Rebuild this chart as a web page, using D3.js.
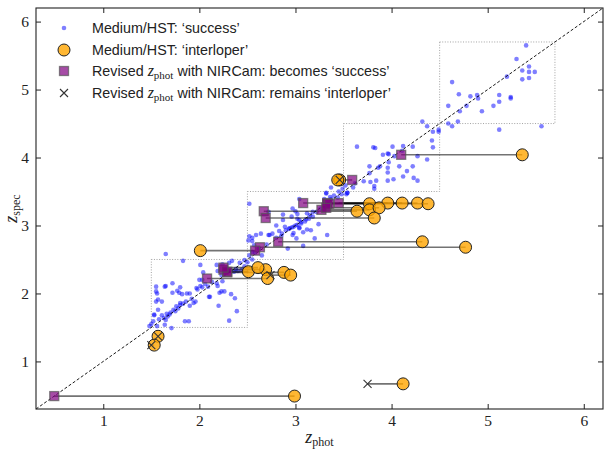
<!DOCTYPE html>
<html>
<head>
<meta charset="utf-8">
<script src="https://cdn.jsdelivr.net/npm/d3@7"></script>
<style>
  body { margin: 0; background: #fff; }
  svg { display: block; }
  .tick text { font-family: "Liberation Serif", "DejaVu Serif", serif; font-size: 15.5px; fill: #222; }
  .legend text { font-family: "Liberation Sans", Arial, sans-serif; font-size: 14.3px; fill: #222; }
</style>
</head>
<body>
<svg id="chart" width="604" height="452"></svg>
<script>
// 数据：蓝色 "success" 点 [z_phot, z_spec]
var successPoints = [
  // 4.5 - 5.7 框
  [5.40,5.65],[5.30,5.45],[4.63,5.11],[5.20,5.19],[5.43,5.34],[5.36,5.28],[5.43,5.26],[5.49,5.26],
  [5.36,5.15],[5.43,5.17],[4.70,4.93],[4.82,4.90],[4.89,4.92],[4.90,4.87],[5.12,4.92],[5.12,4.82],
  [5.24,4.89],[5.24,4.87],[4.59,4.76],[4.78,4.76],[4.71,4.68],[4.94,4.68],[5.06,4.76],[4.32,4.53],
  [4.37,4.46],[4.59,4.50],[4.69,4.53],[4.63,4.46],[4.49,4.41],[5.12,4.41],[5.56,4.46],
  // 3.5 - 4.5 框
  [4.43,4.38],[4.49,4.38],[4.42,4.25],[4.43,4.15],[3.64,4.16],[3.81,4.15],[3.83,4.14],[4.01,4.16],
  [4.12,4.17],[4.22,4.16],[3.91,4.04],[3.96,4.06],[4.03,4.02],[4.27,4.02],[4.37,3.97],[3.97,3.93],
  [3.96,3.85],[4.22,3.87],[4.16,3.80],[3.77,3.87],[3.86,3.85],[3.77,3.77],[3.84,3.66],[3.78,3.64],
  [3.71,3.65],[3.82,3.58],[3.82,3.54],[3.96,3.66],[4.02,3.68],[4.12,3.72],[4.23,3.70],[4.27,3.66],
  [3.54,3.48],[3.48,3.46],[4.11,4.10],[3.97,4.05],[3.88,3.87],[4.08,3.87],[3.96,3.78],[3.62,3.62],
  [3.60,3.56],
  // 2.5 - 3.5 框
  [2.52,3.32],[3.04,3.39],[3.32,3.47],[3.37,3.39],[3.53,3.46],[2.87,3.16],[2.87,3.08],[3.00,3.21],
  [3.02,3.17],[3.15,3.15],[3.18,3.20],[3.11,3.09],[3.24,3.02],[3.06,3.03],[2.80,3.00],[2.89,2.98],
  [2.94,2.96],[3.04,2.96],[3.12,2.94],[2.83,2.92],[2.76,2.88],[2.72,2.86],[2.59,2.86],[2.52,2.84],
  [2.55,2.77],[2.97,2.86],[3.01,2.81],[3.33,2.86],[3.08,2.70],[2.92,2.66],[2.55,2.61],[2.52,2.56],
  [2.47,2.49],[3.32,3.48],[3.36,3.42],[3.30,3.39],[3.44,3.41],[3.54,3.48],[3.52,3.59],[3.37,3.56],
  [2.97,3.25],[2.72,3.20],[2.96,3.13],[3.02,3.10],[3.04,3.08],[3.12,3.18],[2.98,2.98],[3.04,2.97],
  [3.16,2.93],[2.86,2.88],[2.98,2.89],[3.08,2.90],[2.73,2.86],[2.64,2.88],[2.55,2.82],[2.57,2.71],
  [2.51,2.78],[3.20,2.81],[2.65,2.56],[2.93,2.95],[2.96,2.97],[3.00,3.00],[3.02,3.01],[2.90,2.93],
  [3.06,3.05],[3.10,3.06],[3.14,3.10],[3.18,3.13],[3.22,3.20],[3.26,3.25],[2.85,2.84],[2.80,2.82],
  [2.70,2.72],[2.62,2.66],[2.58,2.60],[3.40,3.44],[3.30,3.32],[3.45,3.50],[3.49,3.54],
  // 2.3 附近
  [2.30,2.33],[2.33,2.33],[2.36,2.32],[2.40,2.33],[2.44,2.35],[2.38,2.36],[2.47,2.40],[2.42,2.45],
  [2.50,2.46],[2.55,2.50],
  // 1.5 - 2.5 框
  [1.65,2.58],[1.83,2.48],[2.01,2.42],[2.04,2.31],[2.00,2.20],[2.18,2.42],[2.19,2.33],[2.18,2.15],
  [2.23,2.27],[2.34,2.48],[2.31,2.45],[2.24,2.18],[2.13,2.17],[2.06,2.14],[2.03,2.09],[1.98,2.06],
  [1.72,2.15],[1.80,2.09],[1.55,2.10],[1.56,2.00],[1.64,2.10],[1.72,2.01],[1.79,2.01],[1.82,1.99],
  [1.87,2.00],[1.90,2.00],[1.57,1.91],[1.61,1.88],[1.80,1.86],[1.83,1.85],[1.94,1.86],[1.90,1.82],
  [1.96,1.88],[2.10,1.95],[2.21,2.01],[2.26,2.03],[2.33,1.99],[2.37,1.93],[2.20,1.82],[2.39,1.74],
  [2.31,1.60],[1.73,1.76],[1.69,1.69],[1.66,1.70],[1.61,1.68],[1.76,1.81],[1.80,1.83],[1.53,1.69],
  [1.52,1.59],[1.64,1.54],[1.71,1.49],[1.85,1.59],[1.89,1.59],[1.63,1.64],[1.56,1.52],[2.24,2.43],
  [1.55,2.03],[1.65,2.11],[1.77,2.04],[1.97,2.08],[2.01,2.11],[2.03,2.20],[2.09,2.10],[2.11,1.95],
  [2.19,2.11],[2.23,2.03],[1.55,1.88],[1.57,1.76],[1.65,1.61],[1.53,1.68],[1.58,1.62],[1.67,1.66],
  [1.70,1.72],[1.75,1.74],[1.78,1.78],[1.86,1.88],[1.92,1.92],[1.50,1.55],[1.48,1.52]
]

// 'interloper'：[原 z_phot, z_spec, NIRCam 修正 z_phot, 结果]
var interlopers = [
  [2.99,0.49,0.49,"success"],
  [4.12,0.67,3.75,"interloper"],
  [5.36,4.04,4.10,"success"],
  [3.46,3.67,3.59,"success"],
  [3.44,3.67,3.46,"interloper"],
  [3.77,3.32,3.33,"success"],
  [3.96,3.33,3.45,"success"],
  [4.11,3.33,3.08,"success"],
  [4.27,3.33,3.33,"success"],
  [4.38,3.32,3.35,"success"],
  [3.64,3.21,2.67,"success"],
  [3.77,3.23,3.27,"success"],
  [3.87,3.26,3.32,"success"],
  [3.82,3.11,2.69,"success"],
  [4.32,2.76,2.82,"success"],
  [4.77,2.68,2.63,"success"],
  [2.01,2.63,2.58,"success"],
  [2.69,2.35,2.25,"success"],
  [2.88,2.31,2.29,"success"],
  [2.71,2.22,2.08,"success"],
  [2.95,2.27,2.74,"interloper"],
  [2.51,2.32,2.29,"success"],
  [2.61,2.38,2.25,"success"],
  [1.57,1.37,1.57,"interloper"],
  [1.53,1.24,1.50,"interloper"]
]

// 虚线框 [下限, 上限]
var binBoxes = [[1.5,2.5],[2.5,3.5],[3.5,4.5],[4.5,5.7]]

var xTicks = [1,2,3,4,5,6]
var yTicks = [1,2,3,4,5,6]
var axisDomain = [0.3, 6.2]

var legendLabels = [
  ["Medium/HST: \u2018success\u2019"],
  ["Medium/HST: \u2018interloper\u2019"],
  ["Revised ", "z", "phot", " with NIRCam:  becomes \u2018success\u2019"],
  ["Revised ", "z", "phot", " with NIRCam:  remains \u2018interloper\u2019"]
]

var margin = {left: 36, right: 1, top: 8, bottom: 43}
var W = 604, H = 452
var svg = d3.select("#chart")

var x = d3.scaleLinear().domain(axisDomain).range([margin.left, W - margin.right])
var y = d3.scaleLinear().domain(axisDomain).range([H - margin.bottom, margin.top])

var plot = svg.append("g")

// 虚线框
plot.selectAll(".box")
    .data(binBoxes)
    .enter().append("rect")
    .attr("x", function (d) { return x(d[0]) })
    .attr("y", function (d) { return y(d[1]) })
    .attr("width", function (d) { return x(d[1]) - x(d[0]) })
    .attr("height", function (d) { return y(d[0]) - y(d[1]) })
    .attr("fill", "none")
    .attr("stroke", "#999")
    .attr("stroke-width", 0.9)
    .attr("stroke-dasharray", "1,1.6")

// 成功点
plot.selectAll(".succ")
    .data(successPoints)
    .enter().append("circle")
    .attr("cx", function (d) { return x(d[0]) })
    .attr("cy", function (d) { return y(d[1]) })
    .attr("r", 2.3)
    .attr("fill", "blue")
    .attr("fill-opacity", 0.5)

// 对角线
plot.append("line")
    .attr("x1", x(axisDomain[0])).attr("y1", y(axisDomain[0]))
    .attr("x2", x(axisDomain[1])).attr("y2", y(axisDomain[1]))
    .attr("stroke", "#000")
    .attr("stroke-width", 0.9)
    .attr("stroke-dasharray", "3,2")

// 连线
plot.selectAll(".link")
    .data(interlopers)
    .enter().append("line")
    .attr("x1", function (d) { return x(d[0]) })
    .attr("x2", function (d) { return x(d[2]) })
    .attr("y1", function (d) { return y(d[1]) })
    .attr("y2", function (d) { return y(d[1]) })
    .attr("stroke", "#000")
    .attr("stroke-opacity", 0.55)
    .attr("stroke-width", 1.6)

// 橙色圆
plot.selectAll(".inter")
    .data(interlopers)
    .enter().append("circle")
    .attr("cx", function (d) { return x(d[0]) })
    .attr("cy", function (d) { return y(d[1]) })
    .attr("r", 6)
    .attr("fill", "#ffa500")
    .attr("fill-opacity", 0.8)
    .attr("stroke", "#222")
    .attr("stroke-width", 1)

// 紫色方块
var sq = 9
plot.selectAll(".revised")
    .data(interlopers.filter(function (d) { return d[3] == "success" }))
    .enter().append("rect")
    .attr("x", function (d) { return x(d[2]) - sq / 2 })
    .attr("y", function (d) { return y(d[1]) - sq / 2 })
    .attr("width", sq)
    .attr("height", sq)
    .attr("fill", "purple")
    .attr("fill-opacity", 0.7)
    .attr("stroke", "#555")
    .attr("stroke-opacity", 0.7)
    .attr("stroke-width", 1.3)

// 叉
function crossPath(cx, cy, s) {
  return "M" + (cx - s) + "," + (cy - s) + "L" + (cx + s) + "," + (cy + s) +
         "M" + (cx - s) + "," + (cy + s) + "L" + (cx + s) + "," + (cy - s)
}
plot.selectAll(".remain")
    .data(interlopers.filter(function (d) { return d[3] == "interloper" }))
    .enter().append("path")
    .attr("d", function (d) { return crossPath(x(d[2]), y(d[1]), 4) })
    .attr("stroke", "#333")
    .attr("stroke-width", 1.1)
    .attr("fill", "none")

// 坐标轴（刻度朝内）
var tl = 5
function styleAxis(g) {
  g.select(".domain").remove()
  g.selectAll(".tick line").attr("stroke", "#222").attr("stroke-width", 1)
}
svg.append("g").attr("transform", "translate(0," + y(axisDomain[0]) + ")")
   .call(d3.axisBottom(x).tickValues(xTicks).tickFormat(d3.format("d")).tickSizeInner(-tl).tickSizeOuter(0).tickPadding(6))
   .call(styleAxis)
svg.append("g").attr("transform", "translate(0," + y(axisDomain[1]) + ")")
   .call(d3.axisTop(x).tickValues(xTicks).tickFormat("").tickSizeInner(-tl).tickSizeOuter(0))
   .call(styleAxis)
svg.append("g").attr("transform", "translate(" + x(axisDomain[0]) + ",0)")
   .call(d3.axisLeft(y).tickValues(yTicks).tickFormat(d3.format("d")).tickSizeInner(-tl).tickSizeOuter(0).tickPadding(7))
   .call(styleAxis)
svg.append("g").attr("transform", "translate(" + x(axisDomain[1]) + ",0)")
   .call(d3.axisRight(y).tickValues(yTicks).tickFormat("").tickSizeInner(-tl).tickSizeOuter(0))
   .call(styleAxis)

// 边框
svg.append("rect")
   .attr("x", x(axisDomain[0])).attr("y", y(axisDomain[1]))
   .attr("width", x(axisDomain[1]) - x(axisDomain[0]))
   .attr("height", y(axisDomain[0]) - y(axisDomain[1]))
   .attr("fill", "none")
   .attr("stroke", "#222")
   .attr("stroke-width", 1.1)

// 轴标题
function mathLabel(sel, sub) {
  sel.append("tspan").attr("font-style", "italic").attr("font-size", 18).text("z")
  sel.append("tspan").attr("font-size", 12).attr("dy", 3).text(sub)
}
var xl = svg.append("text")
   .attr("x", (x(axisDomain[0]) + x(axisDomain[1])) / 2)
   .attr("y", 443)
   .attr("text-anchor", "middle")
   .attr("font-family", "Liberation Serif, serif")
   .attr("fill", "#222")
xl.call(mathLabel, "phot")
var yl = svg.append("text")
   .attr("transform", "translate(17," + ((y(axisDomain[0]) + y(axisDomain[1])) / 2) + ") rotate(-90)")
   .attr("text-anchor", "middle")
   .attr("font-family", "Liberation Serif, serif")
   .attr("fill", "#222")
yl.call(mathLabel, "spec")

// 图例
var legend = svg.append("g").attr("class", "legend")
var rowY = [28, 50, 71, 93]
var mx = 64, tx = 92
legend.append("circle").attr("cx", mx).attr("cy", rowY[0]).attr("r", 2.3)
      .attr("fill", "blue").attr("fill-opacity", 0.5)
legend.append("circle").attr("cx", mx).attr("cy", rowY[1]).attr("r", 6)
      .attr("fill", "#ffa500").attr("fill-opacity", 0.8).attr("stroke", "#222")
legend.append("rect").attr("x", mx - sq / 2).attr("y", rowY[2] - sq / 2).attr("width", sq).attr("height", sq)
      .attr("fill", "purple").attr("fill-opacity", 0.7).attr("stroke", "#555").attr("stroke-opacity", 0.7).attr("stroke-width", 1.3)
legend.append("path").attr("d", crossPath(mx, rowY[3], 4)).attr("stroke", "#333").attr("stroke-width", 1.1)

legendLabels.forEach(function (parts, i) {
  var t = legend.append("text").attr("x", tx).attr("y", rowY[i] + 5)
  if (parts.length == 1) { t.text(parts[0]); return }
  t.append("tspan").text(parts[0])
  t.append("tspan").attr("font-family", "Liberation Serif, serif").attr("font-style", "italic").attr("font-size", 16).text(parts[1])
  t.append("tspan").attr("font-family", "Liberation Serif, serif").attr("font-size", 11).attr("dy", 3).text(parts[2])
  t.append("tspan").attr("dy", -3).text(parts[3])
})
</script>
</body>
</html>
